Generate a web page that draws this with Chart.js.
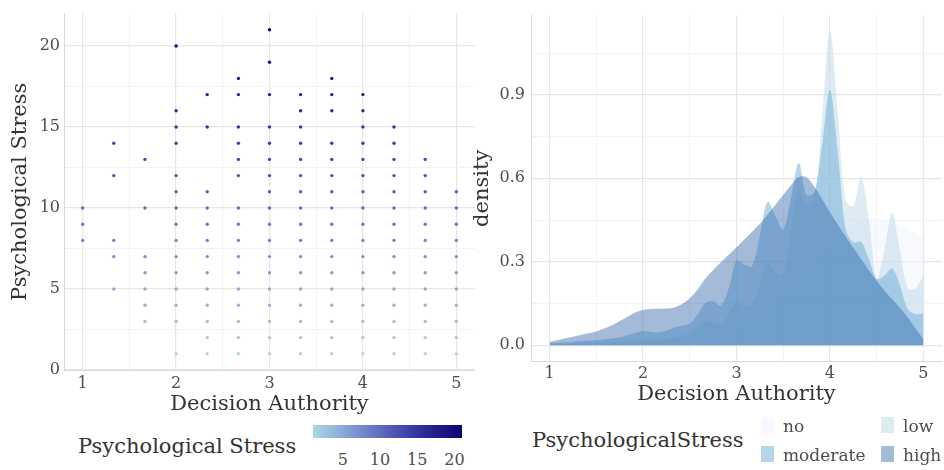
<!DOCTYPE html>
<html>
<head>
<meta charset="utf-8">
<script src="https://cdn.jsdelivr.net/npm/chart.js@4.4.1/dist/chart.umd.min.js"></script>
<style>
  html, body { margin:0; padding:0; background:#ffffff; }
  body { width:944px; height:470px; overflow:hidden; position:relative; font-family:'DejaVu Serif', serif; }
  canvas { position:absolute; top:0; }
  .t { position:absolute; white-space:nowrap; line-height:1; font-family:'DejaVu Serif', serif; }
  .key { position:absolute; width:13px; height:16px; }
</style>
</head>
<body>
<canvas id="scatter" width="480" height="420" style="left:0px"></canvas>
<canvas id="density" width="474" height="420" style="left:470px"></canvas>

<div class="t" id="lgTitleL" style="left:78px; top:436px; font-size:21px; color:#333;">Psychological Stress</div>
<div id="colorbar" style="position:absolute; left:313px; top:425px; width:149px; height:13px;"></div>
<div id="cbLabels"></div>

<div class="t" style="left:532px; top:430px; font-size:21px; color:#333;">PsychologicalStress</div>
<div id="densLegend"></div>

<script>
// ---------------- data ----------------
const authorityLevels = [1, 1.333, 1.667, 2, 2.333, 2.667, 3, 3.333, 3.667, 4, 4.333, 4.667, 5];
const stressByLevel = [
  [8, 9, 10],
  [5, 7, 8, 12, 14],
  [3, 4, 5, 6, 7, 10, 13],
  [1, 3, 4, 5, 6, 7, 8, 9, 10, 11, 12, 14, 15, 16, 20],
  [1, 2, 3, 4, 5, 6, 7, 8, 9, 10, 11, 15, 17],
  [1, 2, 3, 4, 5, 6, 7, 8, 9, 10, 12, 13, 14, 15, 17, 18],
  [1, 2, 3, 4, 5, 6, 7, 8, 9, 10, 11, 12, 13, 14, 15, 17, 19, 21],
  [1, 2, 3, 4, 5, 6, 7, 8, 9, 10, 11, 12, 13, 14, 15, 16, 17],
  [1, 2, 3, 4, 5, 6, 7, 8, 9, 10, 11, 12, 13, 14, 16, 17, 18],
  [1, 2, 3, 4, 5, 6, 7, 8, 9, 10, 11, 12, 13, 14, 15, 16, 17],
  [1, 2, 3, 4, 5, 6, 7, 8, 9, 10, 11, 12, 13, 14, 15],
  [1, 2, 3, 4, 5, 6, 7, 8, 9, 10, 11, 12, 13],
  [1, 2, 3, 4, 5, 6, 7, 8, 9, 10, 11]
];

const densityX = [1, 1.083, 1.167, 1.25, 1.333, 1.417, 1.5, 1.583, 1.667, 1.75, 1.833, 1.917,
  2, 2.083, 2.167, 2.25, 2.333, 2.417, 2.5, 2.583, 2.667, 2.75, 2.833, 2.917,
  3, 3.083, 3.167, 3.25, 3.333, 3.417, 3.5, 3.583, 3.667, 3.75, 3.833, 3.917,
  4, 4.083, 4.167, 4.25, 4.333, 4.417, 4.5, 4.583, 4.667, 4.75, 4.833, 4.917, 5];

const densityNo = [0.002, 0.002, 0.002, 0.002, 0.002, 0.002, 0.002, 0.002, 0.002, 0.002, 0.002, 0.002,
  0.003, 0.003, 0.004, 0.005, 0.006, 0.008, 0.010, 0.015, 0.022, 0.030, 0.040, 0.052,
  0.066, 0.082, 0.100, 0.120, 0.140, 0.165, 0.190, 0.215, 0.240, 0.270, 0.300, 0.330,
  0.360, 0.390, 0.415, 0.435, 0.450, 0.455, 0.455, 0.450, 0.440, 0.430, 0.415, 0.400, 0.385];

const densityLow = [0.004, 0.005, 0.006, 0.007, 0.008, 0.009, 0.010, 0.011, 0.012, 0.014, 0.016, 0.018,
  0.020, 0.020, 0.021, 0.023, 0.027, 0.034, 0.045, 0.066, 0.088, 0.082, 0.078, 0.112,
  0.160, 0.140, 0.150, 0.225, 0.298, 0.262, 0.255, 0.420, 0.560, 0.500, 0.520, 0.820,
  1.128, 0.840, 0.520, 0.500, 0.605, 0.450, 0.240, 0.340, 0.475, 0.340, 0.205, 0.205, 0.250];

const densityModerate = [0.008, 0.009, 0.011, 0.013, 0.015, 0.017, 0.019, 0.021, 0.024, 0.029, 0.036, 0.045,
  0.051, 0.049, 0.046, 0.052, 0.064, 0.070, 0.078, 0.110, 0.152, 0.158, 0.143, 0.205,
  0.305, 0.290, 0.285, 0.395, 0.515, 0.465, 0.415, 0.530, 0.655, 0.540, 0.550, 0.720,
  0.918, 0.700, 0.420, 0.370, 0.372, 0.310, 0.238, 0.250, 0.275, 0.215, 0.130, 0.112, 0.115];

const densityHigh = [0.012, 0.018, 0.025, 0.031, 0.037, 0.043, 0.050, 0.060, 0.072, 0.087, 0.103, 0.118,
  0.127, 0.130, 0.131, 0.132, 0.136, 0.148, 0.170, 0.200, 0.240, 0.270, 0.298, 0.325,
  0.352, 0.380, 0.408, 0.437, 0.470, 0.505, 0.540, 0.575, 0.605, 0.603, 0.570, 0.525,
  0.478, 0.435, 0.392, 0.350, 0.310, 0.270, 0.232, 0.197, 0.165, 0.134, 0.100, 0.060, 0.023];

const stressGroups = ['no', 'low', 'moderate', 'high'];
const groupFills = ['rgba(239,243,255,0.5)', 'rgba(189,215,231,0.5)', 'rgba(107,174,214,0.5)', 'rgba(50,105,170,0.45)'];

const xTicks = [1, 1.5, 2, 2.5, 3, 3.5, 4, 4.5, 5];
const yTicksScatter = [0, 2.5, 5, 7.5, 10, 12.5, 15, 17.5, 20];
const yTicksDensity = [0, 0.15, 0.3, 0.45, 0.6, 0.75, 0.9, 1.05];
const colorbarLabels = [5, 10, 15, 20];

// ---------------- colour scale ----------------
const gradStops = [
  [0.00, 173, 216, 230],
  [0.25, 130, 158, 212],
  [0.50, 86, 96, 186],
  [0.75, 44, 42, 152],
  [1.00, 10, 5, 112]
];
const stressMin = 1, stressMax = 21;
function stressColor(v) {
  const t = Math.max(0, Math.min(1, (v - stressMin) / (stressMax - stressMin)));
  for (let i = 1; i < gradStops.length; i++) {
    if (t <= gradStops[i][0]) {
      const a = gradStops[i - 1], b = gradStops[i];
      const f = (t - a[0]) / (b[0] - a[0]);
      const c = [1, 2, 3].map(k => Math.round(a[k] + (b[k] - a[k]) * f));
      return `rgb(${c[0]},${c[1]},${c[2]})`;
    }
  }
  return 'rgb(10,5,112)';
}

Chart.defaults.font.family = "'DejaVu Serif', serif";
Chart.defaults.color = '#4d4d4d';

const MAJOR = '#e6e6e6', MINOR = '#f3f3f3', AXIS = '#d9d9d9';
const gridColor = ctx => (ctx.index % 2 === 0 ? MAJOR : MINOR);
const gridWidth = ctx => (ctx.index % 2 === 0 ? 1.2 : 1);

// ---------------- scatter ----------------
const scatterPoints = [];
authorityLevels.forEach((a, i) => {
  stressByLevel[i].forEach(s => scatterPoints.push({ x: a, y: s }));
});

new Chart(document.getElementById('scatter'), {
  type: 'scatter',
  data: {
    datasets: [{
      data: scatterPoints,
      pointRadius: 1.7,
      pointBorderWidth: 0,
      pointBackgroundColor: scatterPoints.map(p => stressColor(p.y))
    }]
  },
  options: {
    responsive: false, animation: false, devicePixelRatio: 1,
    layout: { padding: { left: 0, top: 5, right: 5, bottom: 0 } },
    plugins: { legend: { display: false }, tooltip: { enabled: false } },
    scales: {
      x: {
        type: 'linear', min: 0.8, max: 5.2,
        afterBuildTicks: s => { s.ticks = xTicks.map(v => ({ value: v })); },
        afterFit: s => { s.height = 50; },
        grid: { color: gridColor, lineWidth: gridWidth, drawTicks: false },
        border: { display: true, color: AXIS, width: 1 },
        ticks: { padding: 4, font: { size: 16, family: "'DejaVu Serif', serif" }, color: '#4d4d4d', maxRotation: 0, autoSkip: false,
                 callback: (v, i) => (i % 2 === 0 ? String(v) : '') },
        title: { display: true, text: 'Decision Authority', font: { size: 21, family: "'DejaVu Serif', serif" }, color: '#333',
                 padding: { top: 0, bottom: 3 } }
      },
      y: {
        type: 'linear', min: 0, max: 22,
        afterBuildTicks: s => { s.ticks = yTicksScatter.map(v => ({ value: v })); },
        afterFit: s => { s.width = 64; },
        grid: { color: gridColor, lineWidth: gridWidth, drawTicks: false },
        border: { display: true, color: AXIS, width: 1 },
        ticks: { padding: 4, font: { size: 16, family: "'DejaVu Serif', serif" }, color: '#4d4d4d', autoSkip: false,
                 callback: (v, i) => (i % 2 === 0 ? String(v) : '') },
        title: { display: true, text: 'Psychological Stress', font: { size: 21, family: "'DejaVu Serif', serif" }, color: '#333',
                 padding: { top: 8, bottom: 0 } }
      }
    }
  }
});

// ---------------- density ----------------
const densitySeries = [densityNo, densityLow, densityModerate, densityHigh];
new Chart(document.getElementById('density'), {
  type: 'line',
  data: {
    datasets: densitySeries.map((arr, gi) => ({
      label: stressGroups[gi],
      data: densityX.map((x, i) => ({ x: x, y: arr[i] })),
      fill: 'origin',
      backgroundColor: groupFills[gi],
      borderWidth: 0,
      borderColor: 'rgba(0,0,0,0)',
      pointRadius: 0,
      tension: 0.35,
      order: 4 - gi
    }))
  },
  options: {
    responsive: false, animation: false, devicePixelRatio: 1,
    layout: { padding: { left: 0, top: 5.5, right: 2, bottom: 0 } },
    plugins: { legend: { display: false }, tooltip: { enabled: false } },
    scales: {
      x: {
        type: 'linear', min: 0.8, max: 5.2,
        afterBuildTicks: s => { s.ticks = xTicks.map(v => ({ value: v })); },
        afterFit: s => { s.height = 59; },
        grid: { color: gridColor, lineWidth: gridWidth, drawTicks: false },
        border: { display: true, color: AXIS, width: 1 },
        ticks: { padding: 3, font: { size: 16, family: "'DejaVu Serif', serif" }, color: '#4d4d4d', maxRotation: 0, autoSkip: false,
                 callback: (v, i) => (i % 2 === 0 ? String(v) : '') },
        title: { display: true, text: 'Decision Authority', font: { size: 21, family: "'DejaVu Serif', serif" }, color: '#333',
                 padding: { top: 0, bottom: 13 } }
      },
      y: {
        type: 'linear', min: -0.0564, max: 1.1844,
        afterBuildTicks: s => { s.ticks = yTicksDensity.map(v => ({ value: v })); },
        afterFit: s => { s.width = 61; },
        grid: { color: gridColor, lineWidth: gridWidth, drawTicks: false },
        border: { display: true, color: AXIS, width: 1 },
        ticks: { padding: 6, font: { size: 16, family: "'DejaVu Serif', serif" }, color: '#4d4d4d', autoSkip: false,
                 callback: (v, i) => (i % 2 === 0 ? v.toFixed(1) : '') },
        title: { display: true, text: 'density', font: { size: 21, family: "'DejaVu Serif', serif" }, color: '#333',
                 padding: { top: 0, bottom: 0 } }
      }
    }
  }
});

// ---------------- legends (HTML) ----------------
const cb = document.getElementById('colorbar');
cb.style.background = 'linear-gradient(to right,' +
  gradStops.map(s => `rgb(${s[1]},${s[2]},${s[3]}) ${s[0] * 100}%`).join(',') + ')';
const cbl = document.getElementById('cbLabels');
colorbarLabels.forEach(v => {
  const d = document.createElement('div');
  d.className = 't';
  d.textContent = String(v);
  d.style.fontSize = '16px';
  d.style.color = '#4d4d4d';
  d.style.top = '452px';
  const cx = 313 + (v - stressMin) / (stressMax - stressMin) * 149;
  d.style.left = cx + 'px';
  d.style.transform = 'translateX(-50%)';
  cbl.appendChild(d);
});

const legendSlots = [
  { key: [761, 417], label: [783, 418] },
  { key: [881, 417], label: [903, 418] },
  { key: [761, 446], label: [783, 447] },
  { key: [881, 446], label: [903, 447] }
];
const dl = document.getElementById('densLegend');
stressGroups.forEach((g, i) => {
  const k = document.createElement('div');
  k.className = 'key';
  k.style.left = legendSlots[i].key[0] + 'px';
  k.style.top = legendSlots[i].key[1] + 'px';
  k.style.background = groupFills[i];
  dl.appendChild(k);
  const t = document.createElement('div');
  t.className = 't';
  t.textContent = g;
  t.style.fontSize = '17px';
  t.style.color = '#4d4d4d';
  t.style.left = legendSlots[i].label[0] + 'px';
  t.style.top = legendSlots[i].label[1] + 'px';
  dl.appendChild(t);
});
</script>
</body>
</html>
